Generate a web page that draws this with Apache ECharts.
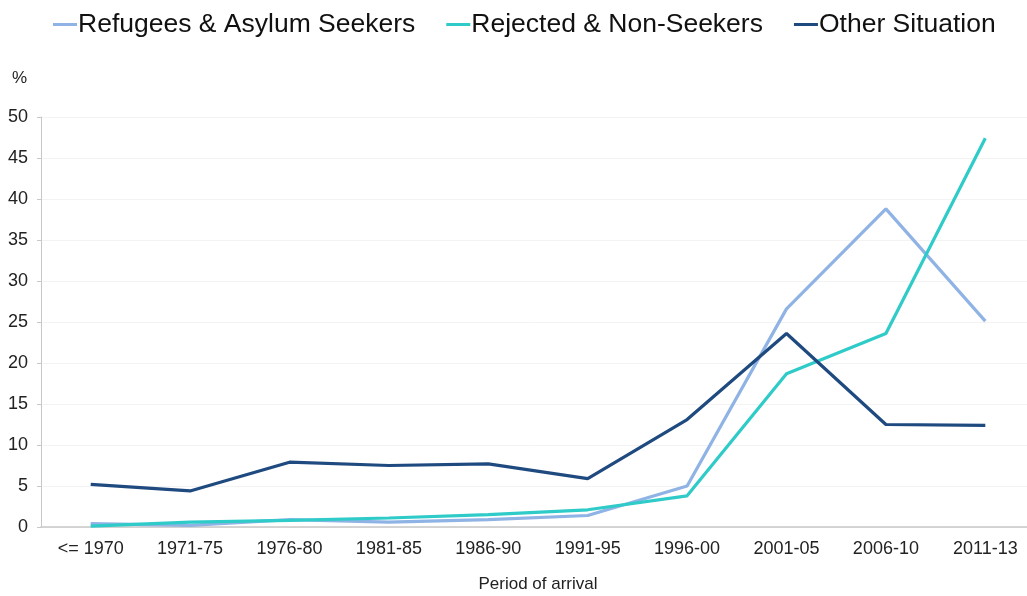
<!DOCTYPE html>
<html><head><meta charset="utf-8">
<script src="https://cdn.jsdelivr.net/npm/echarts@6/dist/echarts.min.js"></script>
<style>html,body{margin:0;padding:0;background:#fff}#c{width:1027px;height:596px}</style>
</head><body><div id="c"></div>
<script>
const categories = ['<= 1970','1971-75','1976-80','1981-85','1986-90','1991-95','1996-00','2001-05','2006-10','2011-13'];
const refugees = [0.4, 0.2, 0.9, 0.6, 0.9, 1.4, 5.0, 26.6, 38.8, 25.1];
const rejected = [0.1, 0.6, 0.8, 1.1, 1.5, 2.1, 3.8, 18.7, 23.6, 47.4];
const other = [5.2, 4.4, 7.9, 7.5, 7.7, 5.9, 13.1, 23.6, 12.5, 12.4];
const seriesNames = ['Refugees & Asylum Seekers','Rejected & Non-Seekers','Other Situation'];
const colors = ['#8fb3e4','#2fcbc8','#1f4a80'];
const font = 'Liberation Sans, Helvetica, Arial, sans-serif';
const chart = echarts.init(document.getElementById('c'), null, {renderer:'canvas'});
chart.setOption({
  animation:false,
  color: colors,
  legend:{
    top: 6, left: 48,
    itemWidth: 24, itemHeight: 3, itemGap: 31,
    icon: 'rect',
    textStyle:{fontFamily:font, fontSize:26.5, color:'#111', padding:[0,0,0,-4]},
    data: seriesNames
  },
  grid:{left:41, top:117, right:-8, bottom:69, containLabel:false, outerBoundsMode:'none'},
  xAxis:{
    type:'category', data:categories, boundaryGap:true,
    name:'Period of arrival', nameLocation:'middle', nameGap:49,
    nameTextStyle:{fontFamily:font, fontSize:17, color:'#222'},
    axisLine:{lineStyle:{color:'#c8c8c8', width:1.5}},
    axisTick:{show:false},
    axisLabel:{fontFamily:font, fontSize:18, color:'#222', margin:13}
  },
  yAxis:{
    type:'value', min:0, max:50, interval:5,
    name:'%', nameLocation:'end', nameGap:30,
    nameTextStyle:{fontFamily:font, fontSize:17, color:'#222', align:'right', padding:[0,14,0,0]},
    axisLine:{show:true, lineStyle:{color:'#c8c8c8'}},
    axisTick:{show:true, length:4, lineStyle:{color:'#c8c8c8'}},
    splitLine:{lineStyle:{color:'#f3f3f3'}},
    axisLabel:{fontFamily:font, fontSize:18, color:'#222', margin:13}
  },
  series:[
    {name:seriesNames[0], type:'line', data:refugees, symbol:'none', lineStyle:{width:3.2}},
    {name:seriesNames[1], type:'line', data:rejected, symbol:'none', lineStyle:{width:3.2}},
    {name:seriesNames[2], type:'line', data:other, symbol:'none', lineStyle:{width:3.2}}
  ]
});
</script></body></html>
